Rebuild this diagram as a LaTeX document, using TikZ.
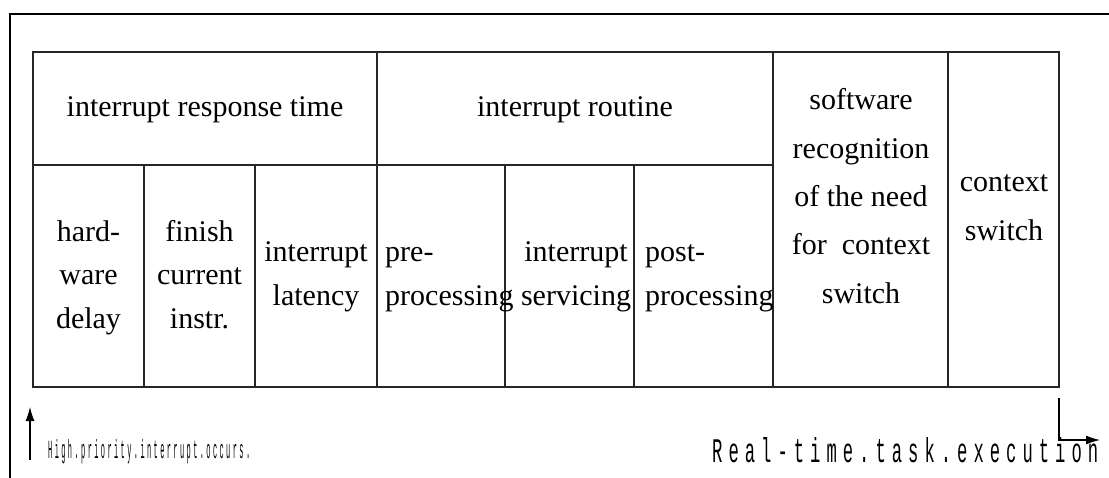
\documentclass[tikz,border=0pt]{standalone}
\usepackage{fontspec}
\setmainfont{Liberation Serif}
\newfontfamily\stickfont[LetterSpace=35]{Liberation Mono}
\usepackage{graphicx}
\usetikzlibrary{arrows.meta}
\begin{document}
\begin{tikzpicture}[x=1pt,y=-1pt,
  cell/.style={draw=black!85, line width=1.3pt, inner sep=0pt, outer sep=0pt, anchor=north west},
  lbl/.style={font=\fontsize{30}{43.5}\selectfont, align=center, inner sep=0pt, anchor=base},
  lbll/.style={font=\fontsize{30}{43.5}\selectfont, align=left, inner sep=0pt, anchor=base west},
  lblw/.style={font=\fontsize{30}{48.3}\selectfont, align=center, inner sep=0pt, anchor=base},
  frame/.style={line width=2.4pt},
  conn/.style={line width=1.2pt, -{Latex[length=14pt,width=9pt]}}]
\useasboundingbox (0,0) rectangle (1109,477);
\draw[frame] (10,478) -- (10,14) -- (1109,14);
% cells
\node[cell, minimum width=344pt, minimum height=113pt] (rt) at (33,52) {};
\node[cell, minimum width=396pt, minimum height=113pt] (ir) at (377,52) {};
\node[cell, minimum width=175pt, minimum height=335pt] (sw) at (773,52) {};
\node[cell, minimum width=111pt, minimum height=335pt] (cs) at (948,52) {};
\node[cell, minimum width=111pt, minimum height=222pt] (hd) at (33,165) {};
\node[cell, minimum width=111pt, minimum height=222pt] (fc) at (144,165) {};
\node[cell, minimum width=122pt, minimum height=222pt] (il) at (255,165) {};
\node[cell, minimum width=128pt, minimum height=222pt] (pp) at (377,165) {};
\node[cell, minimum width=129pt, minimum height=222pt] (is) at (505,165) {};
\node[cell, minimum width=139pt, minimum height=222pt] (po) at (634,165) {};
% texts (anchor base = baseline of the last line)
\node[lbl] (trt) at (205,116) {interrupt response time};
\node[lbl] (tir) at (575,116) {interrupt routine};
\node[lbl] (thd) at (88.5,328) {hard-\\ware\\delay};
\node[lbl] (tfc) at (199.5,328) {finish\\current\\instr.};
\node[lbl] (til) at (316,305) {interrupt\\latency};
\node[lbll] (tpp) at (385,305) {pre-\\processing};
\node[lbl] (tis) at (576,305) {interrupt\\servicing};
\node[lbll] (tpo) at (645,305) {post-\\processing};
\node[lblw] (tsw) at (861,303) {software\\recognition\\of the need\\for\ \ context\\switch};
\node[lblw] (tcs) at (1004,240) {context\\switch};
% bottom labels
\node[inner sep=0pt, anchor=base west] (hp) at (48,458) {\resizebox{202pt}{19pt}{\fontsize{23}{26}\selectfont\stickfont High.priority.interrupt.occurs.}};
\node[inner sep=0pt, anchor=base west] (rte) at (712,462) {\resizebox{386pt}{25pt}{\fontsize{30}{34}\selectfont\stickfont Real-time.task.execution}};
% arrows
\coordinate (ls) at (30,460);
\coordinate (le) at (30,407);
\draw[conn] (ls) -- (le);
\coordinate (rs) at (1059,398);
\coordinate (rm) at (1059,440);
\coordinate (re) at (1100,440);
\draw[conn] (rs) -- (rm) -- (re);
\end{tikzpicture}
\end{document}
